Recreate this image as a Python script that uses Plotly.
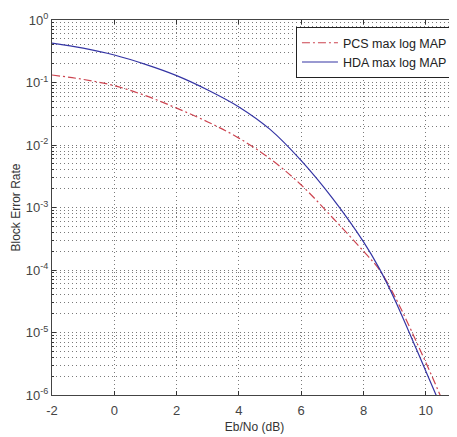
import plotly.graph_objects as go

ebno = [-2, -1, 0, 1, 2, 3, 4, 5, 6, 7, 8, 8.5, 9, 10, 10.5]
hda_bler = [0.4266, 0.3548, 0.2754, 0.1950, 0.1288, 0.0759, 0.0407, 0.01778, 0.005623,
            0.001413, 2.818e-4, 1.072e-4, 3.388e-5, 2.399e-6, 6.31e-7]
pcs_bler = [0.1318, 0.1122, 0.0891, 0.0617, 0.0389, 0.0234, 0.01288, 0.006026, 0.002291,
            6.918e-4, 1.995e-4, 1.023e-4, 3.802e-5, 3.311e-6, 8.913e-7]

x_ticks = [-2, 0, 2, 4, 6, 8, 10]
x_ticktext = ["-2", "0", "2", "4", "6", "8", "10"]
y_tickvals = [1, 1e-1, 1e-2, 1e-3, 1e-4, 1e-5, 1e-6]
y_ticktext = ["10<sup>0</sup>", "10<sup>-1</sup>", "10<sup>-2</sup>", "10<sup>-3</sup>",
              "10<sup>-4</sup>", "10<sup>-5</sup>", "10<sup>-6</sup>"]

minor_vals = [k * 10.0 ** e for e in range(-6, 0) for k in range(2, 10)]

font = "Liberation Sans, Arial, sans-serif"
grid_col = "#7a7a7a"
grid_dash = "1px,3px"

fig = go.Figure()
fig.add_trace(go.Scatter(x=ebno, y=pcs_bler, mode="lines", name="PCS max log MAP",
                         line=dict(color="#cc4450", width=1.2, dash="8px,3px,2px,3px",
                                   shape="spline", smoothing=1.0)))
fig.add_trace(go.Scatter(x=ebno, y=hda_bler, mode="lines", name="HDA max log MAP",
                         line=dict(color="#3434a4", width=1.2, shape="spline", smoothing=1.0)))

# page body has an 8px default margin, so the figure is sized/margined to compensate
fig.update_layout(
    width=449, height=429,
    margin=dict(l=44, r=0, t=12, b=42),
    paper_bgcolor="white", plot_bgcolor="white",
    font=dict(family=font, size=12, color="#333"),
    showlegend=True,
    legend=dict(x=0.990, y=0.981, xanchor="right", yanchor="top",
                bgcolor="white", bordercolor="#222", borderwidth=1,
                font=dict(size=12.5, color="#222"),
                tracegroupgap=0, itemwidth=36),
)
fig.update_xaxes(
    range=[-2, 11], tickvals=x_ticks, ticktext=x_ticktext,
    ticks="inside", ticklen=4, tickcolor="#333",
    showline=True, linecolor="#444", linewidth=1, mirror="ticks",
    showgrid=True, gridcolor=grid_col, griddash=grid_dash, gridwidth=1,
    zeroline=False, automargin=False, ticklabelstandoff=3,
    title=dict(text="Eb/No (dB)", font=dict(size=12, color="#333"), standoff=6),
    tickfont=dict(size=13, color="#444"),
)
fig.update_yaxes(
    type="log", range=[-6, 0], tickvals=y_tickvals, ticktext=y_ticktext,
    ticks="inside", ticklen=4, tickcolor="#333",
    showline=True, linecolor="#444", linewidth=1, mirror="ticks",
    showgrid=True, gridcolor=grid_col, griddash=grid_dash, gridwidth=1,
    zeroline=False, automargin=False,
    minor=dict(tickvals=minor_vals, ticks="inside", ticklen=2, tickcolor="#333",
               showgrid=True, gridcolor=grid_col, griddash=grid_dash, gridwidth=1),
    title=dict(text="Block Error Rate", font=dict(size=12, color="#333"), standoff=2),
    tickfont=dict(size=13, color="#444"),
)

fig.write_html("out.html")
